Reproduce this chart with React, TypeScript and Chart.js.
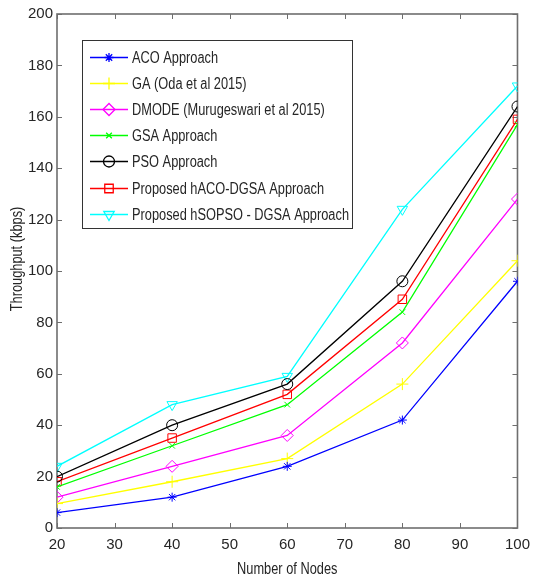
import React, { useEffect, useRef } from "react";
import { Chart, registerables } from "chart.js";
import { drawPoint } from "chart.js/helpers";

Chart.register(...registerables);

const nodes = [20, 40, 60, 80, 100];
const xTicks = [20, 30, 40, 50, 60, 70, 80, 90, 100];
const yTicks = [0, 20, 40, 60, 80, 100, 120, 140, 160, 180, 200];

const seriesNames = [
  "ACO Approach",
  "GA (Oda et al 2015)",
  "DMODE (Murugeswari et al 2015)",
  "GSA Approach",
  "PSO Approach",
  "Proposed hACO-DGSA Approach",
  "Proposed hSOPSO - DGSA Approach",
];

const aco = [6, 12, 24, 42, 96];
const ga = [9.5, 18, 27, 56, 104];
const dmode = [12, 24, 36, 72, 128];
const gsa = [16, 32, 48, 84, 157];
const pso = [20, 40, 56, 96, 164];
const haco = [18, 35, 52, 89, 159];
const hsopso = [24, 48, 59, 124, 172];

const seriesValues = [aco, ga, dmode, gsa, pso, haco, hsopso];
const colors = ["#0000ff", "#ffff00", "#ff00ff", "#00ff00", "#000000", "#ff0000", "#00ffff"];
const markers = ["star", "cross", "rectRot", "crossRot", "circle", "rect", "triangle"];
const markerRadius = [4.5, 6, 6, 4, 5.5, 6, 6];
const markerRotation = [0, 0, 0, 0, 0, 0, 180];

const FONT = 'Arial, "Liberation Sans", sans-serif';
const TEXT = "#262626";
const AXIS = "#6e6e6e";
const SQUEEZE = 0.8;

function narrowText(ctx: any, text: string, x: number, y: number, align: string) {
  ctx.save();
  ctx.translate(x, y);
  ctx.scale(SQUEEZE, 1);
  ctx.textAlign = align;
  ctx.fillText(text, 0, 0);
  ctx.restore();
}

const frame = {
  id: "frame",
  beforeDatasetsDraw(chart: any) {
    const { ctx, chartArea } = chart;
    const { left, right, top, bottom } = chartArea;
    const xs = chart.scales.x;
    const ys = chart.scales.y;
    ctx.save();
    ctx.strokeStyle = AXIS;
    ctx.lineWidth = 1.6;
    ctx.strokeRect(left, top, right - left, bottom - top);
    ctx.lineWidth = 1;
    ctx.beginPath();
    const tl = 5;
    for (const v of xTicks) {
      const px = Math.round(xs.getPixelForValue(v)) + 0.5;
      ctx.moveTo(px, bottom);
      ctx.lineTo(px, bottom - tl);
      ctx.moveTo(px, top);
      ctx.lineTo(px, top + tl);
    }
    for (const v of yTicks) {
      const py = Math.round(ys.getPixelForValue(v)) + 0.5;
      ctx.moveTo(left, py);
      ctx.lineTo(left + tl, py);
      ctx.moveTo(right, py);
      ctx.lineTo(right - tl, py);
    }
    ctx.stroke();
    ctx.fillStyle = TEXT;
    ctx.font = "16px " + FONT;
    ctx.textBaseline = "middle";
    narrowText(ctx, "Number of Nodes", (left + right) / 2, 570, "center");
    ctx.save();
    ctx.translate(18, 259);
    ctx.rotate(-Math.PI / 2);
    narrowText(ctx, "Throughput (kbps)", 0, 0, "center");
    ctx.restore();
    ctx.restore();
  },
  afterDatasetsDraw(chart: any) {
    const { ctx } = chart;
    const bx = 82.5, by = 40.5, bw = 270, bh = 188;
    ctx.save();
    ctx.fillStyle = "#ffffff";
    ctx.fillRect(bx, by, bw, bh);
    ctx.strokeStyle = "#333333";
    ctx.lineWidth = 1;
    ctx.strokeRect(bx, by, bw, bh);
    ctx.font = "16px " + FONT;
    ctx.textBaseline = "middle";
    for (let i = 0; i < seriesNames.length; i++) {
      const cy = Math.round(57 + i * 26.1) + 0.5;
      ctx.strokeStyle = colors[i];
      ctx.lineWidth = 1.3;
      ctx.beginPath();
      ctx.moveTo(90, cy);
      ctx.lineTo(128, cy);
      ctx.stroke();
      ctx.fillStyle = "rgba(0,0,0,0)";
      ctx.strokeStyle = colors[i];
      drawPoint(
        ctx,
        {
          pointStyle: markers[i],
          radius: markerRadius[i],
          rotation: markerRotation[i],
          borderWidth: 1,
        } as any,
        109,
        cy
      );
      ctx.fillStyle = TEXT;
      narrowText(ctx, seriesNames[i], 132, cy + 1, "left");
    }
    ctx.restore();
  },
};

export default function App() {
  const ref = useRef<HTMLCanvasElement>(null);
  useEffect(() => {
    document.body.style.margin = "0";
    const canvas = ref.current!;
    const chart = new Chart(canvas, {
      type: "line",
      data: {
        datasets: seriesNames.map((name, i) => ({
          label: name,
          data: nodes.map((n, j) => ({ x: n, y: seriesValues[i][j] })),
          borderColor: colors[i],
          backgroundColor: "transparent",
          pointBorderColor: colors[i],
          pointBackgroundColor: "transparent",
          borderWidth: 1.3,
          pointStyle: markers[i] as any,
          pointRadius: markerRadius[i],
          pointRotation: markerRotation[i],
          pointBorderWidth: 1,
          tension: 0,
          fill: false,
        })),
      },
      options: {
        animation: false,
        responsive: false,
        events: [],
        layout: { padding: { top: 14, right: 10, left: 0, bottom: 0 } },
        plugins: { legend: { display: false }, tooltip: { enabled: false } },
        scales: {
          x: {
            type: "linear",
            min: 20,
            max: 100,
            afterBuildTicks: (s: any) => {
              s.ticks = xTicks.map((v) => ({ value: v }));
            },
            afterFit: (s: any) => {
              s.height = 52;
            },
            grid: { display: false, drawTicks: false },
            border: { display: false },
            ticks: {
              padding: 8,
              color: TEXT,
              font: { family: FONT, size: 15 },
              maxRotation: 0,
              autoSkip: false,
            },
          },
          y: {
            type: "linear",
            min: 0,
            max: 200,
            afterBuildTicks: (s: any) => {
              s.ticks = yTicks.map((v) => ({ value: v }));
            },
            afterFit: (s: any) => {
              s.width = 57;
            },
            grid: { display: false, drawTicks: false },
            border: { display: false },
            ticks: {
              padding: 4,
              color: TEXT,
              font: { family: FONT, size: 15 },
              autoSkip: false,
            },
          },
        },
      },
      plugins: [frame],
    });
    return () => chart.destroy();
  }, []);
  return <canvas ref={ref} width={538} height={580} style={{ display: "block" }} />;
}
